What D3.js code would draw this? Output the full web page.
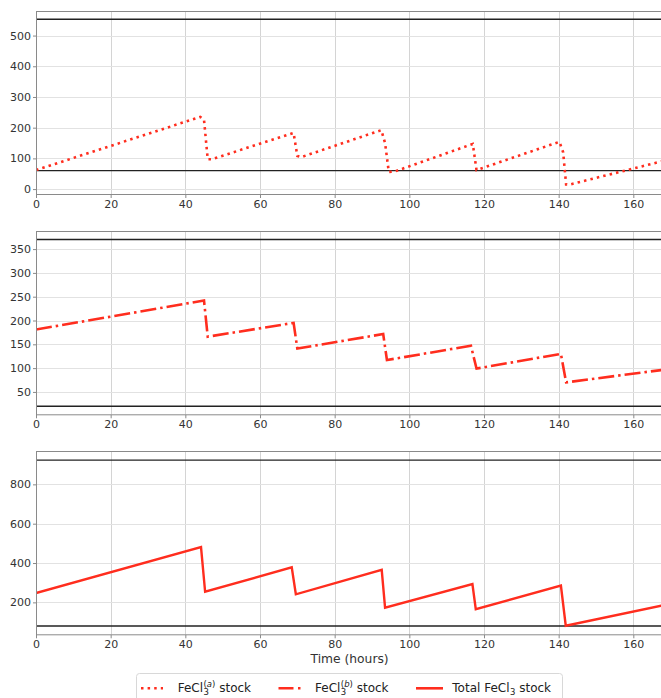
<!DOCTYPE html>
<html>
<head>
<meta charset="utf-8">
<script src="https://cdn.jsdelivr.net/npm/d3@7"></script>
<style>
  body { margin: 0; background: #fff; }
  svg { display: block; font-family: "DejaVu Sans", sans-serif; }
</style>
</head>
<body>
<div class="chart"></div>
<script>
// FeCl3 stock over one week, three stacked panels sharing the time axis

var W = 661, H = 698;

// time axis
var timeTicks = [0, 20, 40, 60, 80, 100, 120, 140, 160];

// stock (a) - dotted
var timeA  = [0, 44, 45, 46, 47, 69, 70, 71, 92.5, 93.5, 94.5, 96, 117, 118, 140.2, 141.2, 142, 143, 160, 167.5];
var stockA = [62, 235, 226, 97, 97, 183, 108, 104, 192, 150, 56, 57, 147, 62, 154, 120, 15, 15, 67, 90];

// stock (b) - dash dot
var timeB  = [0, 45, 46, 69, 70, 93, 94, 116.5, 118, 140.6, 142, 167.5];
var stockB = [181, 242, 166, 195, 141, 171.5, 117, 147, 99, 130, 70, 96];

// total stock - solid
var timeC  = [0, 44.2, 45.3, 68.5, 69.6, 92.6, 93.5, 116.9, 117.8, 140.6, 141.9, 167.5];
var stockC = [247, 481, 254, 378, 241, 365, 173, 293, 165, 285, 81, 183];

// min / max storage levels
var limitsA = [60, 553];
var limitsB = [20, 370];
var limitsC = [80, 923];

// y ticks per panel
var yTicksA = [0, 100, 200, 300, 400, 500];
var yTicksB = [50, 100, 150, 200, 250, 300, 350];
var yTicksC = [200, 400, 600, 800];

var red = "#ff2d1e";

var panels = [
  {t: timeA, v: stockA, lim: limitsA, ticks: yTicksA, dom: [-16, 580], top: 11, bottom: 194, dash: "2.5,4.1", lw: 2.6},
  {t: timeB, v: stockB, lim: limitsB, ticks: yTicksB, dom: [3, 388], top: 231, bottom: 414.3, dash: "16,4,2.5,4", lw: 2.6},
  {t: timeC, v: stockC, lim: limitsC, ticks: yTicksC, dom: [37.6, 969.6], top: 451, bottom: 634.3, dash: null, lw: 2.4}
];

var svg = d3.select('.chart').append('svg')
  .attr('width', W)
  .attr('height', H);

var x = d3.scaleLinear().domain([0, 168]).range([36, 36 + 168 * 3.7333]);

panels.forEach(function(p, i) {
  var y = d3.scaleLinear().domain(p.dom).range([p.bottom, p.top]);
  var g = svg.append('g');

  g.append('clipPath').attr('id', 'clip' + i)
    .append('rect')
    .attr('x', x.range()[0]).attr('y', p.top)
    .attr('width', x.range()[1] - x.range()[0]).attr('height', p.bottom - p.top);

  // grid
  g.selectAll('.vg').data(timeTicks).enter().append('line')
    .attr('x1', function(d) { return Math.round(x(d)) + 0.5; })
    .attr('x2', function(d) { return Math.round(x(d)) + 0.5; })
    .attr('y1', p.top).attr('y2', p.bottom)
    .attr('stroke', '#d4d4d4').attr('stroke-width', 1);
  g.selectAll('.hg').data(p.ticks).enter().append('line')
    .attr('x1', x.range()[0]).attr('x2', x.range()[1])
    .attr('y1', function(d) { return Math.round(y(d)) + 0.5; })
    .attr('y2', function(d) { return Math.round(y(d)) + 0.5; })
    .attr('stroke', '#e2e2e2').attr('stroke-width', 1);

  // limit lines
  g.selectAll('.lim').data(p.lim).enter().append('line')
    .attr('x1', x.range()[0]).attr('x2', x.range()[1])
    .attr('y1', function(d) { return y(d); })
    .attr('y2', function(d) { return y(d); })
    .attr('stroke', '#222').attr('stroke-width', 1.4);

  // series
  var pts = p.t.map(function(d, j) { return [d, p.v[j]]; });
  var line = d3.line().x(function(d) { return x(d[0]); }).y(function(d) { return y(d[1]); });
  g.append('path')
    .datum(pts)
    .attr('clip-path', 'url(#clip' + i + ')')
    .attr('d', line)
    .attr('fill', 'none')
    .attr('stroke', red)
    .attr('stroke-width', p.lw)
    .attr('stroke-dasharray', p.dash);

  // frame
  g.append('rect')
    .attr('x', x.range()[0] + 0.5).attr('y', p.top + 0.5)
    .attr('width', x.range()[1] - x.range()[0]).attr('height', p.bottom - p.top)
    .attr('fill', 'none').attr('stroke', '#8a8a8a').attr('stroke-width', 1);

  // axes
  var xa = g.append('g').attr('transform', 'translate(0,' + (p.bottom + 0.5) + ')')
    .call(d3.axisBottom(x).tickValues(timeTicks).tickSize(3.5).tickPadding(2).tickFormat(d3.format('d')));
  var ya = g.append('g').attr('transform', 'translate(' + (x.range()[0] + 0.5) + ',0)')
    .call(d3.axisLeft(y).tickValues(p.ticks).tickSize(3.5).tickPadding(2).tickFormat(d3.format('d')));
  [xa, ya].forEach(function(a) {
    a.select('.domain').remove();
    a.selectAll('line').attr('stroke', '#8a8a8a');
    a.selectAll('text').attr('fill', '#333').style('font-size', '11px').style('font-family', '"DejaVu Sans", sans-serif');
  });
});

svg.append('text')
  .attr('x', (x.range()[0] + x.range()[1]) / 2)
  .attr('y', 662.5)
  .attr('text-anchor', 'middle')
  .attr('fill', '#333')
  .style('font-size', '12.3px')
  .text('Time (hours)');

// legend
var leg = svg.append('g');
leg.append('rect')
  .attr('x', 136.5).attr('y', 673.5).attr('width', 426).attr('height', 32)
  .attr('rx', 3).attr('fill', '#fff').attr('stroke', '#d8d8d8');

var legItems = [
  {x0: 141, x1: 163, tx: 177.7, dash: "2.5,4.1", pre: "FeCl", sup: "a", post: " stock"},
  {x0: 278.5, x1: 300.5, tx: 315, dash: "15,4.5,2.5,4", pre: "FeCl", sup: "b", post: " stock"},
  {x0: 416, x1: 443, tx: 452.3, dash: null, pre: "Total FeCl", sup: null, post: " stock"}
];

legItems.forEach(function(it) {
  var ly = 688.3, by = 692.3;
  leg.append('line')
    .attr('x1', it.x0).attr('x2', it.x1).attr('y1', ly).attr('y2', ly)
    .attr('stroke', red).attr('stroke-width', 2.6)
    .attr('stroke-dasharray', it.dash);
  var t1 = leg.append('text').attr('x', it.tx).attr('y', by).attr('fill', '#222')
    .style('font-size', '12px').text(it.pre);
  var xs = it.tx + t1.node().getComputedTextLength() + 0.5;
  var sub = leg.append('text').attr('x', xs).attr('y', by + 3).attr('fill', '#222')
    .style('font-size', '8.5px').text('3');
  var w = sub.node().getComputedTextLength();
  if (it.sup) {
    var sp = leg.append('text').attr('x', xs).attr('y', by - 5.5).attr('fill', '#222')
      .style('font-size', '8.5px');
    sp.append('tspan').text('(');
    sp.append('tspan').style('font-style', 'italic').text(it.sup);
    sp.append('tspan').text(')');
    w = Math.max(w, sp.node().getComputedTextLength());
  }
  leg.append('text').attr('x', xs + w).attr('y', by).attr('fill', '#222')
    .style('font-size', '12px').style('white-space', 'pre').attr('xml:space', 'preserve').text(it.post);
});
</script>
</body>
</html>
